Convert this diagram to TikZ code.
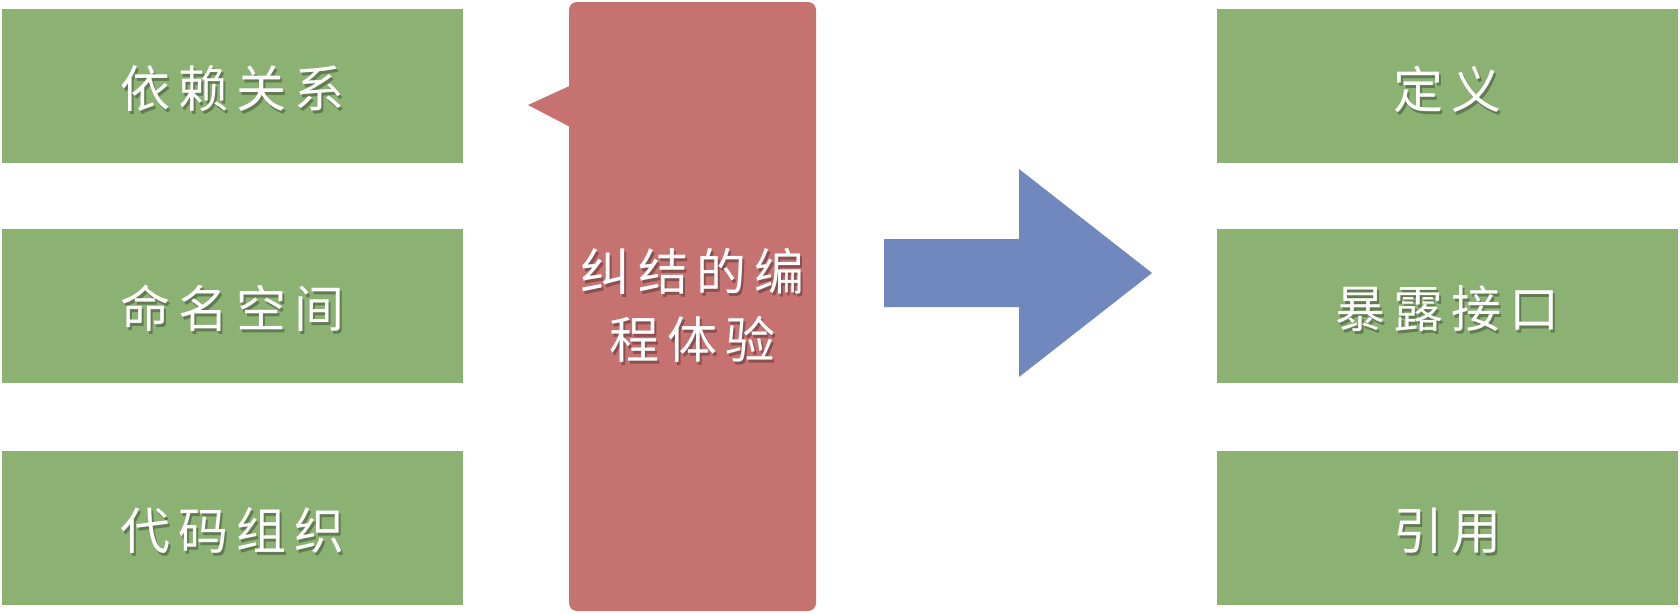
\documentclass[tikz,border=0pt]{standalone}
\usepackage{fontspec}
\newfontfamily\cjk[LetterSpace=16]{Noto Sans CJK SC}
\definecolor{boxgreen}{RGB}{139,178,115}
\definecolor{boxred}{RGB}{198,114,112}
\definecolor{arrowblue}{RGB}{112,136,190}
\tikzset{
  greenbox/.style={fill=boxgreen, draw=none, minimum width=461pt, minimum height=154pt, inner sep=0pt},
  redbox/.style={fill=boxred, draw=none, rounded corners=8pt, minimum width=247pt, minimum height=609pt, inner sep=0pt},
  lbl/.style={text=white, font=\cjk\fontsize{50}{68}\selectfont, align=center, inner sep=0pt},
  lblshadow/.style={text=black, opacity=0.3, font=\cjk\fontsize{50}{68}\selectfont, align=center, inner sep=0pt},
}
\newcommand\labelled[3]{%
  \node[lblshadow] at ([shift={(2pt,-6pt)}]#1) {#2};
  \node[lbl] (#3) at ([yshift=-3pt]#1) {#2};
}
\begin{document}
\begin{tikzpicture}[x=1pt,y=-1pt]
\useasboundingbox (0,0) rectangle (1680,613);
% left column
\node[greenbox] (l1) at (232.5,86) {};
\node[greenbox] (l2) at (232.5,305.5) {};
\node[greenbox] (l3) at (232.5,527.5) {};
% right column
\node[greenbox] (r1) at (1447.5,86) {};
\node[greenbox] (r2) at (1447.5,305.5) {};
\node[greenbox] (r3) at (1447.5,527.5) {};
% red callout
\node[redbox] (c) at (692.5,306.5) {};
\coordinate (tip) at (528,105);
\fill[boxred] ([yshift=-84.5pt]c.north west) ++(4,0) -- ++(-4,0) -- (tip) -- ([yshift=-124.5pt]c.north west) -- ++(4,0) -- cycle;
% blue arrow
\fill[arrowblue] (884,239) -- (1019,239) -- (1019,169) -- (1152,273) -- (1019,377) -- (1019,307) -- (884,307) -- cycle;
% labels
\labelled{l1.center}{依赖关系}{t1}
\labelled{l2.center}{命名空间}{t2}
\labelled{l3.center}{代码组织}{t3}
\labelled{r1.center}{定义}{t4}
\labelled{r2.center}{暴露接口}{t5}
\labelled{r3.center}{引用}{t6}
\labelled{692.5,302}{纠结的编\\程体验}{t7}
\end{tikzpicture}
\end{document}
